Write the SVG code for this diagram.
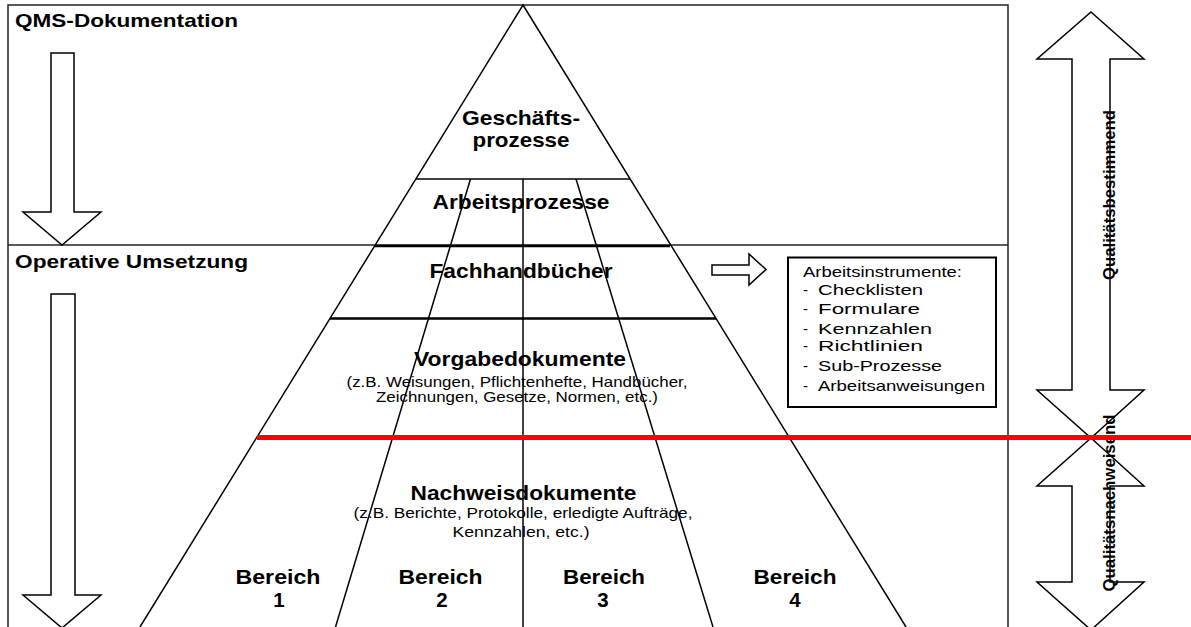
<svg xmlns="http://www.w3.org/2000/svg" width="1191" height="627" viewBox="0 0 1191 627">
<style>
.frame{fill:none;stroke:#222;stroke-width:1.5}
.ln{fill:none;stroke:#000;stroke-width:1.5}
.thick{fill:none;stroke:#000;stroke-width:2.5}
.arrow{fill:#fff;stroke:#000;stroke-width:1.5;stroke-linejoin:miter}
.red{stroke:#ff0000;stroke-width:5}
.h{font-family:"Liberation Sans",Arial,sans-serif;font-weight:bold;font-size:19px;fill:#000}
.t{font-family:"Liberation Sans",Arial,sans-serif;font-weight:bold;font-size:20.5px;fill:#000;text-anchor:middle}
.s{font-family:"Liberation Sans",Arial,sans-serif;font-size:14.5px;fill:#000;text-anchor:middle}
.b{font-family:"Liberation Sans",Arial,sans-serif;font-size:15px;fill:#000}
.v{font-family:"Liberation Sans",Arial,sans-serif;font-weight:bold;font-size:17px;fill:#000;text-anchor:middle}
</style>
<rect width="1191" height="627" fill="#fff"/>
<g id="frame">
<polyline class="frame" points="8,627 8,5 1008,5 1008,627"/>
<line class="frame" x1="8" y1="245" x2="1008" y2="245"/>
</g>
<g id="section-labels">
<text class="h" x="15" y="27" textLength="223" lengthAdjust="spacingAndGlyphs">QMS-Dokumentation</text>
<text class="h" x="15" y="268" textLength="233" lengthAdjust="spacingAndGlyphs">Operative Umsetzung</text>
</g>
<g id="left-arrows">
<polygon class="arrow" points="51,53 74,53 74,212 101,212 62,245 23,212 51,212"/>
<polygon class="arrow" points="51,294 75,294 75,595 101,595 62,628 23,595 51,595"/>
</g>
<g id="pyramid">
<polyline class="ln" points="140,627 523,5 906,627"/>
<line class="ln" x1="416" y1="179" x2="630" y2="179"/>
<line class="thick" x1="375" y1="246" x2="670" y2="246"/>
<line class="thick" x1="330" y1="318.5" x2="716" y2="318.5"/>
<line class="ln" x1="523" y1="179" x2="523" y2="627"/>
<line class="ln" x1="470.5" y1="179" x2="335.5" y2="627"/>
<line class="ln" x1="576" y1="179" x2="713" y2="627"/>
</g>
<g id="pyramid-labels">
<text class="t" x="521" y="124.5" textLength="118" lengthAdjust="spacingAndGlyphs">Geschäfts-</text>
<text class="t" x="521" y="147" textLength="97" lengthAdjust="spacingAndGlyphs">prozesse</text>
<text class="t" x="521" y="209" textLength="177" lengthAdjust="spacingAndGlyphs">Arbeitsprozesse</text>
<text class="t" x="521" y="278" textLength="183" lengthAdjust="spacingAndGlyphs">Fachhandbücher</text>
<text class="t" x="520" y="366" textLength="212" lengthAdjust="spacingAndGlyphs">Vorgabedokumente</text>
<text class="s" x="517" y="386.5" textLength="341" lengthAdjust="spacingAndGlyphs">(z.B. Weisungen, Pflichtenhefte, Handbücher,</text>
<text class="s" x="517" y="402" textLength="282" lengthAdjust="spacingAndGlyphs">Zeichnungen, Gesetze, Normen, etc.)</text>
<text class="t" x="523.5" y="499.5" textLength="226" lengthAdjust="spacingAndGlyphs">Nachweisdokumente</text>
<text class="s" x="523" y="518" textLength="339" lengthAdjust="spacingAndGlyphs">(z.B. Berichte, Protokolle, erledigte Aufträge,</text>
<text class="s" x="521" y="537" textLength="137" lengthAdjust="spacingAndGlyphs">Kennzahlen,  etc.)</text>
</g>
<g id="bereiche">
<text class="t" x="278" y="584" textLength="85" lengthAdjust="spacingAndGlyphs">Bereich</text>
<text class="t" x="279" y="607">1</text>
<text class="t" x="440.5" y="584" textLength="84" lengthAdjust="spacingAndGlyphs">Bereich</text>
<text class="t" x="442" y="607">2</text>
<text class="t" x="604" y="584" textLength="82" lengthAdjust="spacingAndGlyphs">Bereich</text>
<text class="t" x="603" y="607">3</text>
<text class="t" x="795" y="584" textLength="83" lengthAdjust="spacingAndGlyphs">Bereich</text>
<text class="t" x="795" y="607">4</text>
</g>
<g id="small-arrow">
<polygon class="arrow" points="712,265 749,265 749,254 766,269.5 749,285 749,275 712,275"/>
</g>
<g id="arbeitsinstrumente">
<rect x="788" y="257.5" width="208" height="149.5" fill="#fff" stroke="#000" stroke-width="2"/>
<text class="b" x="803" y="276.5" textLength="159" lengthAdjust="spacingAndGlyphs">Arbeitsinstrumente:</text>
<text class="b" y="295"><tspan x="803">-</tspan><tspan x="818" textLength="105" lengthAdjust="spacingAndGlyphs">Checklisten</tspan></text>
<text class="b" y="314"><tspan x="803">-</tspan><tspan x="818" textLength="102" lengthAdjust="spacingAndGlyphs">Formulare</tspan></text>
<text class="b" y="334"><tspan x="803">-</tspan><tspan x="818" textLength="114" lengthAdjust="spacingAndGlyphs">Kennzahlen</tspan></text>
<text class="b" y="350.5"><tspan x="803">-</tspan><tspan x="818" textLength="105" lengthAdjust="spacingAndGlyphs">Richtlinien</tspan></text>
<text class="b" y="370.5"><tspan x="803">-</tspan><tspan x="818" textLength="124" lengthAdjust="spacingAndGlyphs">Sub-Prozesse</tspan></text>
<text class="b" y="390.5"><tspan x="803">-</tspan><tspan x="818" textLength="167" lengthAdjust="spacingAndGlyphs">Arbeitsanweisungen</tspan></text>
</g>
<g id="right-arrows">
<polygon class="arrow" points="1091,12 1144,59 1110,59 1110,390 1144,390 1091,438 1037,390 1072,390 1072,59 1037,59"/>
<polygon class="arrow" points="1091,438 1144,486 1110,486 1110,582 1144,582 1091,630 1037,582 1072,582 1072,486 1037,486"/>
<text class="v" transform="translate(1114.5,195) rotate(-90)" textLength="170" lengthAdjust="spacingAndGlyphs">Qualitätsbestimmend</text>
<text class="v" transform="translate(1114.5,503) rotate(-90)" textLength="177" lengthAdjust="spacingAndGlyphs">Qualitätsnachweisend</text>
</g>
<g id="connectors">
<line class="red" x1="257" y1="437.5" x2="1191" y2="437.5"/>
</g>
</svg>
